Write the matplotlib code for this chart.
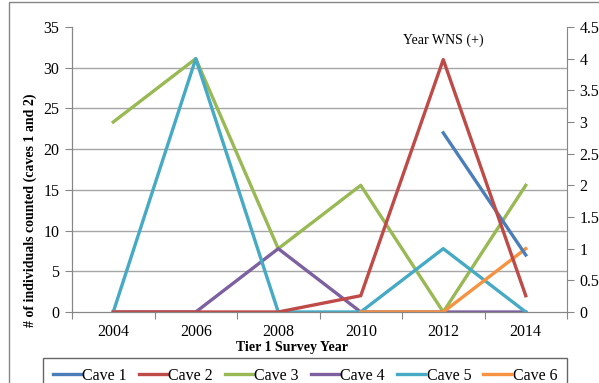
import numpy as np
import matplotlib
matplotlib.use('Agg')
import matplotlib.pyplot as plt
from matplotlib.patches import Rectangle

plt.rcParams['font.family'] = ['Liberation Serif', 'DejaVu Serif']

years = ['2004', '2006', '2008', '2010', '2012', '2014']
# left axis (caves 1 and 2)
cave1 = [np.nan, np.nan, np.nan, np.nan, 22, 7]
cave2 = [0, 0, 0, 2, 31, 2]
# right axis
cave3 = [3, 4, 1, 2, 0, 2]
cave4 = [0, 0, 1, 0, 0, 0]
cave5 = [0, 4, 0, 0, 1, 0]
cave6 = [np.nan, np.nan, np.nan, 0, 0, 1]
left_ticks = [0, 5, 10, 15, 20, 25, 30, 35]
right_ticks = [0, 0.5, 1, 1.5, 2, 2.5, 3, 3.5, 4, 4.5]

colors = {'Cave 1': '#4A7EBB', 'Cave 2': '#BE4B48', 'Cave 3': '#98B954',
          'Cave 4': '#7D60A0', 'Cave 5': '#46AAC5', 'Cave 6': '#F69240'}
spine_c = '#868686'
grid_c = '#A6A6A6'
lw = 2.4

fig = plt.figure(figsize=(5.99, 3.83), dpi=100)
ax = fig.add_axes([72/599, 1-312/383, (567-72)/599, (312-27)/383])
ax2 = ax.twinx()
ax.set_zorder(ax2.get_zorder() + 1)
ax.patch.set_visible(False)

x = np.arange(len(years))

# right axis series (drawn underneath)
l3, = ax2.plot(x, cave3, color=colors['Cave 3'], lw=lw, label='Cave 3')
l4, = ax2.plot(x, cave4, color=colors['Cave 4'], lw=lw, label='Cave 4')
l5, = ax2.plot(x, cave5, color=colors['Cave 5'], lw=lw, label='Cave 5')
l6, = ax2.plot(x, cave6, color=colors['Cave 6'], lw=lw, label='Cave 6')
# left axis series
l1, = ax.plot(x, cave1, color=colors['Cave 1'], lw=lw, label='Cave 1')
l2, = ax.plot(x, cave2, color=colors['Cave 2'], lw=lw, label='Cave 2')

ax.set_ylim(0, 35)
ax2.set_ylim(0, 4.5)
ax.set_xlim(-0.5, len(years) - 0.5)
ax.set_yticks(left_ticks)
ax2.set_yticks(right_ticks)
ax2.set_yticklabels([f'{v:g}' for v in right_ticks])

# horizontal gridlines for left-axis ticks, drawn in the lower axes
grid_vals = [v * 4.5 / 35 for v in left_ticks[1:]]
ax2.set_yticks(grid_vals, minor=True)
ax2.yaxis.grid(True, which='minor', color=grid_c, lw=1)
ax2.tick_params(axis='y', which='minor', length=0)

# category axis: ticks between categories, labels at centres
ax.set_xticks(np.arange(-0.5, len(years)), minor=False)
ax.set_xticklabels([])
ax.set_xticks(x, minor=True)
ax.set_xticklabels(years, minor=True)
ax.tick_params(axis='x', which='major', length=5, color=spine_c)
ax.tick_params(axis='x', which='minor', length=0, pad=9, labelsize=11.5)

ax.tick_params(axis='y', length=5, color=spine_c, labelsize=11.5, pad=4)
ax2.tick_params(axis='y', which='major', length=5, color=spine_c, labelsize=11.5, pad=4)

for a in (ax, ax2):
    a.spines['top'].set_visible(False)
    for s in ('left', 'right', 'bottom'):
        a.spines[s].set_color(spine_c)
ax.spines['right'].set_visible(False)

ax.text(4, 0.955, 'Year WNS (+)', transform=ax.get_xaxis_transform(),
        ha='center', va='center', fontsize=10)

fig.text(292/599, 1-347/383, 'Tier 1 Survey Year', ha='center', va='center',
         fontsize=10, fontweight='bold')
fig.text(30/599, 1-210/383, '# of individuals counted (caves 1 and 2)', ha='center',
         va='center', rotation=90, fontsize=10, fontweight='bold')

leg = fig.legend([l1, l2, l3, l4, l5, l6],
                 ['Cave 1', 'Cave 2', 'Cave 3', 'Cave 4', 'Cave 5', 'Cave 6'],
                 loc='upper left', bbox_to_anchor=(43/599, 1-358/383), ncol=6,
                 fontsize=11.5, frameon=True, fancybox=False, borderaxespad=0,
                 handlelength=1.75, handletextpad=0.1, columnspacing=0.75,
                 borderpad=0.6)
leg.get_frame().set_edgecolor('#404040')
leg.get_frame().set_linewidth(1)

fig.patches.append(Rectangle((9/599, -0.05), 1.0, 1.05 - 2/383, transform=fig.transFigure,
                             fill=False, edgecolor=spine_c, lw=1))

fig.savefig('out.png', dpi=100)
